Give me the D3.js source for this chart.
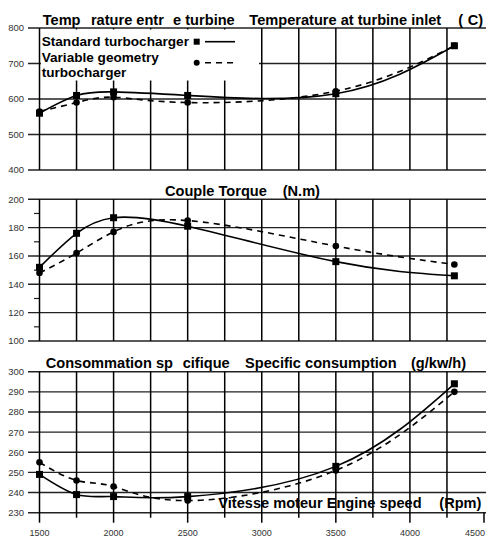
<!DOCTYPE html>
<html>
<head>
<meta charset="utf-8">
<script src="https://cdn.jsdelivr.net/npm/d3@7"></script>
<style>
  body { margin: 0; background: #fff; }
  svg { display: block; font-family: "Liberation Sans", Arial, sans-serif; }
</style>
</head>
<body>
<svg id="chart" width="488" height="536"></svg>
<script>
// Engine speed (rpm) at which each run was measured
const rpm = [1500, 1750, 2000, 2500, 3500, 4300];

// Turbine inlet temperature (C)
const tempStandard = [560, 610, 620, 610, 615, 750];
const tempVariable = [565, 590, 605, 590, 622, 750];

// Torque (N.m)
const torqueStandard = [152, 176, 187, 181, 156, 146];
const torqueVariable = [148, 162, 177, 185, 167, 154];

// Specific consumption (g/kw/h)
const consStandard = [249, 239, 238, 238, 253, 294];
const consVariable = [255, 246, 243, 236, 251, 290];

// Axis ticks
const rpmTicks = [1500, 2000, 2500, 3000, 3500, 4000, 4500];
const rpmGrid = [1500, 1750, 2000, 2250, 2500, 2750, 3000, 3250, 3500, 3750, 4000, 4250];
const tempTicks = [400, 500, 600, 700, 800];
const torqueTicks = [100, 120, 140, 160, 180, 200];
const torqueMinor = [110, 130, 150, 170, 190];
const consTicks = [230, 240, 250, 260, 270, 280, 290, 300];

// Headings (pieces kept apart where the accented glyphs were lost)
const tempTitle = [["Temp", 42.7], ["rature entr", 90.9], ["e turbine", 173.1],
                   ["Temperature at turbine inlet", 249.3], ["(", 458.3], ["C)", 467.7]];
const torqueTitle = [["Couple Torque", 165], ["(N.m)", 282.7]];
const consTitle = [["Consommation sp", 45.7], ["cifique", 182.7],
                   ["Specific consumption", 245], ["(g/kw/h)", 411]];
const speedTitle = [["Vitesse moteur Engine speed", 218.3], ["(Rpm)", 439.3]];
const legendStandard = ["Standard turbocharger"];
const legendVariable = ["Variable geometry", "turbocharger"];

const svg = d3.select("#chart");
const x = d3.scaleLinear().domain([1500, 4500]).range([39.5, 484]);
const gridLeft = 28, gridRight = 486;

const panels = [
  { domain: [400, 800], range: [170, 28], ticks: tempTicks, minor: [],
    std: tempStandard, vg: tempVariable, title: tempTitle, titleY: 24.5 },
  { domain: [100, 200], range: [341, 199.3], ticks: torqueTicks, minor: torqueMinor,
    std: torqueStandard, vg: torqueVariable, title: torqueTitle, titleY: 195.5 },
  { domain: [230, 300], range: [512.7, 371.7], ticks: consTicks, minor: [],
    std: consStandard, vg: consVariable, title: consTitle, titleY: 367.5, bottom: true }
];

function heading(g, pieces, y, size) {
  g.selectAll(null).data(pieces).join("text")
    .attr("x", d => d[1])
    .attr("y", y)
    .attr("font-size", size)
    .attr("font-weight", "bold")
    .attr("fill", "#000")
    .text(d => d[0]);
}

panels.forEach((p, i) => {
  const y = d3.scaleLinear().domain(p.domain).range(p.range);
  const g = svg.append("g");

  // horizontal grid lines running out past the axis as ticks
  g.selectAll(null).data(p.ticks).join("line")
    .attr("x1", gridLeft).attr("x2", gridRight)
    .attr("y1", d => y(d)).attr("y2", d => y(d))
    .attr("stroke", "#222").attr("stroke-width", 1.4);

  // minor ticks on the left edge
  g.selectAll(null).data(p.minor).join("line")
    .attr("x1", 34).attr("x2", x(1500))
    .attr("y1", d => y(d)).attr("y2", d => y(d))
    .attr("stroke", "#222").attr("stroke-width", 1.2);

  // vertical grid lines; the lowest panel carries the rpm ticks below
  const yTop = y(p.domain[1]), yBot = y(p.domain[0]);
  g.selectAll(null).data(p.bottom ? rpmGrid.concat([4500]) : rpmGrid).join("line")
    .attr("x1", d => x(d)).attr("x2", d => x(d))
    .attr("y1", d => (p.bottom && d === 4500) ? yBot : yTop)
    .attr("y2", d => p.bottom ? yBot + (rpmTicks.includes(d) ? 10 : 5) : yBot)
    .attr("stroke", "#000").attr("stroke-width", 1.5);

  // y tick labels
  g.selectAll(null).data(p.ticks).join("text")
    .attr("x", 24).attr("y", d => y(d) + 3.4)
    .attr("text-anchor", "end")
    .attr("font-size", 9.5).attr("fill", "#333")
    .text(d => d);

  // legend block sits on a white patch inside the first panel
  if (i === 0) {
    g.append("rect")
      .attr("x", 41).attr("y", 29.5).attr("width", 218).attr("height", 51)
      .attr("fill", "#fff");
  }

  const line = d3.line().x((d, k) => x(rpm[k])).y(d => y(d)).curve(d3.curveNatural);

  g.append("path").datum(p.vg).attr("d", line)
    .attr("fill", "none").attr("stroke", "#000").attr("stroke-width", 1.6)
    .attr("stroke-dasharray", "6,5");
  g.append("path").datum(p.std).attr("d", line)
    .attr("fill", "none").attr("stroke", "#000").attr("stroke-width", 1.6);

  g.selectAll(null).data(p.vg).join("circle")
    .attr("cx", (d, k) => x(rpm[k])).attr("cy", d => y(d)).attr("r", 3.3)
    .attr("fill", "#000");
  g.selectAll(null).data(p.std).join("rect")
    .attr("x", (d, k) => x(rpm[k]) - 3.5).attr("y", d => y(d) - 3.5)
    .attr("width", 7).attr("height", 7).attr("fill", "#000");

  heading(g, p.title, p.titleY, 14.6);
});

// x-axis caption inside the lowest panel
heading(svg.append("g"), speedTitle, 507.5, 14.6);

// rpm labels along the bottom edge
svg.append("g").selectAll(null).data(rpmTicks).join("text")
  .attr("x", d => Math.min(x(d), 475)).attr("y", 535.5)
  .attr("text-anchor", "middle")
  .attr("font-size", 9).attr("fill", "#333")
  .text(d => d);

// legend
const lg = svg.append("g");
lg.selectAll(null).data(legendStandard).join("text")
  .attr("x", 41.7).attr("y", 46).attr("font-size", 13.6).attr("font-weight", "bold")
  .text(d => d);
lg.selectAll(null).data(legendVariable).join("text")
  .attr("x", 41.7).attr("y", (d, k) => 61.5 + k * 15.5).attr("font-size", 13.6).attr("font-weight", "bold")
  .text(d => d);
lg.append("rect").attr("x", 193.7).attr("y", 38.7).attr("width", 6).attr("height", 6).attr("fill", "#000");
lg.append("line").attr("x1", 205).attr("x2", 235).attr("y1", 41.7).attr("y2", 41.7)
  .attr("stroke", "#000").attr("stroke-width", 1.6);
lg.append("circle").attr("cx", 196.7).attr("cy", 62.7).attr("r", 3).attr("fill", "#000");
lg.append("line").attr("x1", 205).attr("x2", 237).attr("y1", 62.7).attr("y2", 62.7)
  .attr("stroke", "#000").attr("stroke-width", 1.6).attr("stroke-dasharray", "6,5");
</script>
</body>
</html>
